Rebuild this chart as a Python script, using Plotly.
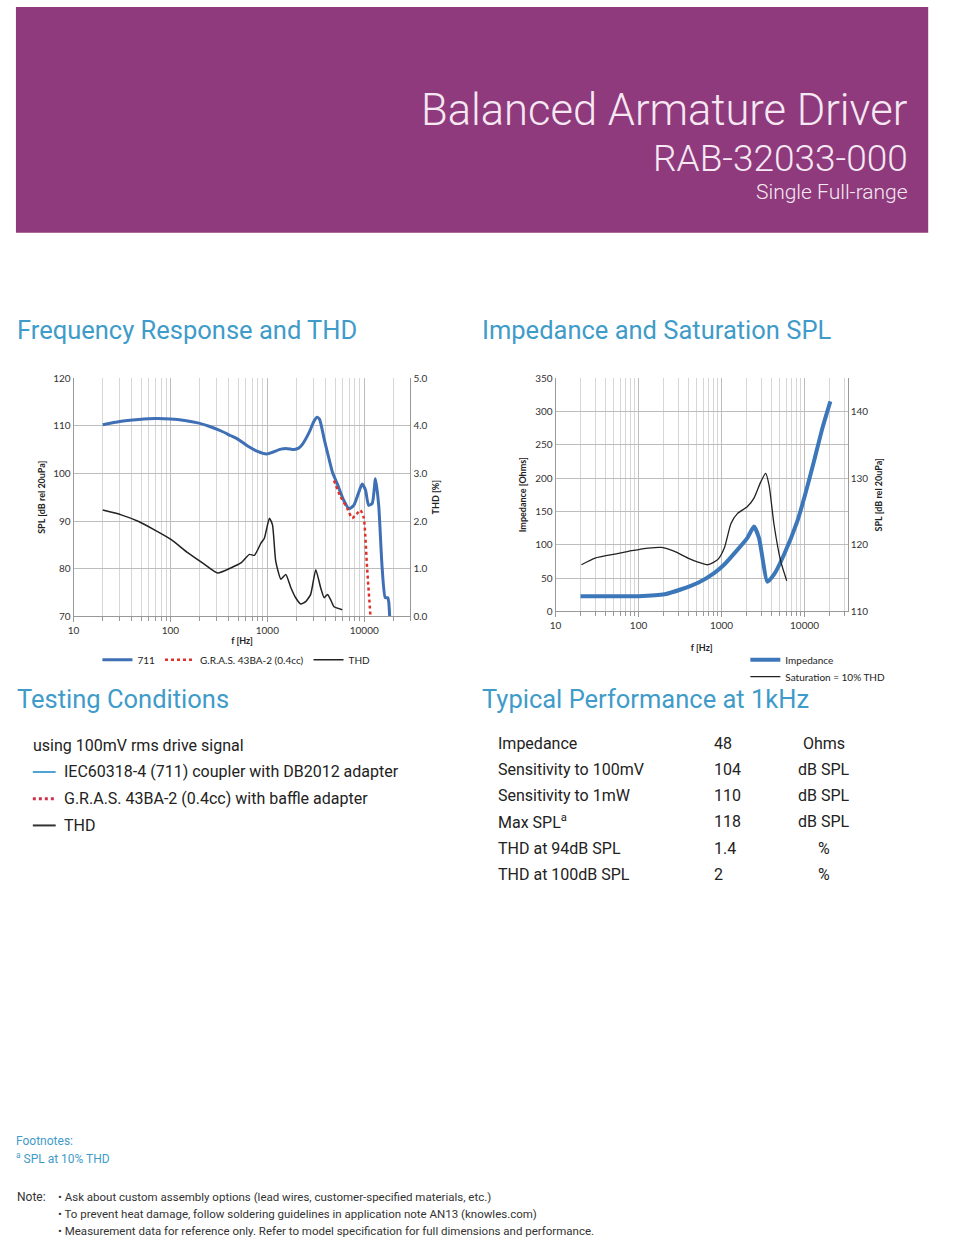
import plotly.graph_objects as go

W, H = 960, 1256

# ---------------- Data ----------------
# Frequency response (711 coupler), SPL dB
fr711_f = [20, 30, 47, 70, 100, 140, 192, 250, 334, 420, 495, 620, 794, 900, 1000, 1150, 1380, 1600, 1890, 2100,
           2300, 2700, 3000, 3250, 3450, 3860, 4300, 4690, 5270, 6100, 6950, 7790, 8700, 9520, 10300, 11100, 12080,
           13060, 14100, 15300, 16500, 17500, 17900, 18300]
fr711_spl = [110.2, 110.9, 111.3, 111.5, 111.4, 111.1, 110.6, 109.9, 108.9, 107.9, 107.2, 105.8, 104.6, 104.2, 104.1,
             104.5, 105.1, 105.2, 105.0, 105.3, 106.1, 108.6, 110.8, 111.8, 111.4, 107.2, 103.3, 100.3, 97.8, 94.5,
             92.6, 93.3, 95.8, 97.8, 96.5, 93.3, 93.7, 98.9, 93.3, 80.2, 73.9, 73.9, 73.0, 70.0]

# Frequency response (G.R.A.S. 43BA-2), SPL dB
gras_f = [4880, 5600, 6700, 7500, 8200, 9140, 9900, 10700, 11600]
gras_spl = [98.5, 95.4, 92.6, 90.6, 91.3, 92.3, 90.6, 80.2, 70.0]

# THD %
thd_f = [20, 31, 47, 69, 102, 152, 225, 307, 424, 534, 653, 735, 861, 932, 1050, 1130, 1220, 1380, 1550, 1750, 1960,
         2210, 2490, 2800, 3160, 3550, 3860, 4180, 4520, 4880, 5930]
thd_pct = [2.23, 2.13, 1.99, 1.81, 1.61, 1.33, 1.09, 0.91, 1.02, 1.12, 1.30, 1.28, 1.54, 1.64, 2.06, 1.92, 1.16, 0.78,
           0.88, 0.60, 0.39, 0.26, 0.31, 0.46, 0.98, 0.60, 0.39, 0.46, 0.34, 0.20, 0.14]

# Impedance, Ohms
imp_f = [20, 50, 100, 207, 328, 522, 822, 1080, 1560, 2040, 2460, 2830, 3570, 4290, 5650, 8150, 10000, 12900, 16250, 20460]
imp_ohm = [22.8, 22.8, 22.8, 25.7, 33.2, 43.0, 57.9, 70.3, 92.6, 110.0, 127.2, 110.0, 44.6, 55.4, 85.0, 134.6, 172.0,
           223.8, 273.0, 315.0]

# Saturation SPL (10% THD), dB
sat_f = [20.5, 30, 52, 83, 131, 189, 272, 394, 520, 684, 905, 1080, 1300, 1560, 2040, 2460, 2960, 3400, 3740, 4290,
         5170, 6100]
sat_spl = [117.0, 118.0, 118.6, 119.1, 119.5, 119.6, 119.0, 118.0, 117.4, 117.0, 117.8, 119.5, 123.2, 124.7, 125.7,
           127.0, 129.4, 130.7, 128.9, 123.0, 117.5, 114.6]

freq_ticks = [10, 100, 1000, 10000]
freq_ticktext = ["10", "100", "1000", "10000"]
freq_minor = [20, 30, 40, 50, 60, 70, 80, 90, 200, 300, 400, 500, 600, 700, 800, 900,
              2000, 3000, 4000, 5000, 6000, 7000, 8000, 9000, 20000, 30000]

# Typical performance table
perf_labels = ["Impedance", "Sensitivity to 100mV", "Sensitivity to 1mW", "Max SPL<sup>a</sup>",
               "THD at 94dB SPL", "THD at 100dB SPL"]
perf_values = ["48", "104", "110", "118", "1.4", "2"]
perf_units = ["Ohms", "dB SPL", "dB SPL", "dB SPL", "%", "%"]

testing_lines = ["IEC60318-4 (711) coupler with DB2012 adapter", "G.R.A.S. 43BA-2 (0.4cc) with baffle adapter", "THD"]
notes = ["• Ask about custom assembly options (lead wires, customer-specified materials, etc.)",
         "• To prevent heat damage, follow soldering guidelines in application note AN13 (knowles.com)",
         "• Measurement data for reference only. Refer to model specification for full dimensions and performance."]

# ---------------- Styles ----------------
PURPLE = "#8E3A7C"
HEAD_TXT = "#F6E8F3"
SECTION = "#3F9BC9"
BLUE = "#3F6FB4"
IMP_BLUE = "#3C78B9"
RED = "#E0302A"
BLACK = "#222222"
GRID = "#BDBDBD"
GRID_MINOR = "#D6D6D6"
CHART_FONT = "Lato"
BODY_FONT = "Roboto"


def px(x):
    return x / W


def py(y):
    return 1 - y / H


fig = go.Figure()

fig.add_trace(go.Scatter(x=fr711_f, y=fr711_spl, mode="lines", name="711", xaxis="x", yaxis="y",
                         line=dict(color=BLUE, width=3, shape="spline", smoothing=0.6), legend="legend"))
fig.add_trace(go.Scatter(x=gras_f, y=gras_spl, mode="lines", name="G.R.A.S. 43BA-2 (0.4cc)", xaxis="x", yaxis="y",
                         line=dict(color=RED, width=2.5, dash="dot", shape="spline", smoothing=0.5), legend="legend"))
fig.add_trace(go.Scatter(x=thd_f, y=thd_pct, mode="lines", name="THD", xaxis="x", yaxis="y2",
                         line=dict(color=BLACK, width=1.5, shape="spline", smoothing=0.5), legend="legend"))

fig.add_trace(go.Scatter(x=imp_f, y=imp_ohm, mode="lines", name="Impedance", xaxis="x2", yaxis="y3",
                         line=dict(color=IMP_BLUE, width=4, shape="spline", smoothing=0.5), legend="legend2"))
fig.add_trace(go.Scatter(x=sat_f, y=sat_spl, mode="lines", name="Saturation = 10% THD", xaxis="x2", yaxis="y4",
                         line=dict(color=BLACK, width=1.3, shape="spline", smoothing=0.6), legend="legend3"))

tickfont = dict(family=CHART_FONT, size=10, color="#333333")
titlefont = dict(family=CHART_FONT, size=9, color="#222222", weight="bold")
legfont = dict(family=CHART_FONT, size=10, color="#222222")

xcommon = dict(type="log", tickvals=freq_ticks, ticktext=freq_ticktext, showgrid=True, gridcolor=GRID,
               gridwidth=1, tickfont=tickfont, showline=True, linecolor="#999999", zeroline=False,
               minor=dict(tickmode="array", tickvals=freq_minor, showgrid=True, gridcolor=GRID_MINOR,
                          ticks="outside", ticklen=4, tickcolor="#999999"),
               ticks="outside", ticklen=5, tickcolor="#999999", title_font=titlefont)

fig.update_layout(
    width=W, height=H, margin=dict(l=0, r=0, t=0, b=0),
    paper_bgcolor="white", plot_bgcolor="white",
    xaxis=dict(xcommon, domain=[px(68), px(407)], range=[1, 4.477], anchor="y",
               title=dict(text="f [Hz]", standoff=2)),
    yaxis=dict(domain=[py(615.7), py(375)], range=[70, 120], dtick=10, tickfont=tickfont, showgrid=True,
               gridcolor=GRID, zeroline=False, anchor="x", showline=True, linecolor="#999999", mirror=False,
               title=dict(text="SPL [dB rel 20uPa]", font=titlefont, standoff=6)),
    yaxis2=dict(overlaying="y", side="right", range=[0, 5], dtick=1, tickformat=".1f", tickfont=tickfont,
                showgrid=False, zeroline=False, anchor="x", showline=True, linecolor="#999999",
                title=dict(text="THD [%]", font=titlefont, standoff=6)),
    xaxis2=dict(xcommon, domain=[px(553), px(847)], range=[1, 4.52], anchor="y3",
                title=dict(text="f [Hz]", standoff=14)),
    yaxis3=dict(domain=[py(610.7), py(375)], range=[0, 350], dtick=50, tickfont=tickfont, showgrid=True,
                gridcolor=GRID, zeroline=False, anchor="x2", showline=True, linecolor="#999999",
                title=dict(text="Impedance [Ohms]", font=titlefont, standoff=6)),
    yaxis4=dict(overlaying="y3", side="right", range=[110, 145], tickvals=[110, 120, 130, 140], tickfont=tickfont,
                showgrid=False, zeroline=False, anchor="x2", showline=True, linecolor="#999999",
                title=dict(text="SPL [dB rel 20uPa]", font=titlefont, standoff=8)),
    legend=dict(orientation="h", x=px(92), y=py(645), xanchor="left", yanchor="top",
                font=legfont, itemwidth=30, tracegroupgap=0, bgcolor="rgba(0,0,0,0)", itemclick=False),
    legend2=dict(orientation="v", x=px(744), y=py(645), xanchor="left", yanchor="top",
                 font=legfont, itemwidth=30, tracegroupgap=0, bgcolor="rgba(0,0,0,0)", itemclick=False),
    legend3=dict(orientation="v", x=px(744), y=py(662), xanchor="left", yanchor="top",
                 font=legfont, itemwidth=30, tracegroupgap=0, bgcolor="rgba(0,0,0,0)", itemclick=False),
    showlegend=True,
)

shapes = []
annotations = []

# Header band
shapes.append(dict(type="rect", xref="paper", yref="paper", x0=px(10), x1=px(928), y0=py(228), y1=1,
                   fillcolor=PURPLE, line=dict(width=0), layer="below"))


def text(x, y, s, size, color="#222222", family=BODY_FONT, xanchor="left", weight="normal"):
    annotations.append(dict(x=px(x), y=py(y), xref="paper", yref="paper", text=s, showarrow=False,
                            xanchor=xanchor, yanchor="middle",
                            font=dict(family=family, size=size, color=color, weight=weight)))


text(910, 105, "Balanced Armature Driver", 43.5, HEAD_TXT, xanchor="right", weight=300)
text(910, 153, "RAB-32033-000", 37, HEAD_TXT, xanchor="right", weight=300)
text(910, 187, "Single Full-range", 21, HEAD_TXT, xanchor="right", weight=300)

text(9, 326, "Frequency Response and THD", 25.5, SECTION)
text(477, 326, "Impedance and Saturation SPL", 25.5, SECTION)
text(9, 699, "Testing Conditions", 25.5, SECTION)
text(477, 699, "Typical Performance at 1kHz", 25.5, SECTION)

# Testing conditions
text(25, 746, "using 100mV rms drive signal", 16)
test_y = [773, 800, 827]
test_styles = [dict(color="#4FA3D1", width=2), dict(color="#D0304A", width=3, dash="dot"),
               dict(color="#333333", width=2)]
for yy, s, st in zip(test_y, testing_lines, test_styles):
    shapes.append(dict(type="line", xref="paper", yref="paper", x0=px(27), x1=px(50), y0=py(yy), y1=py(yy), line=st))
    text(56, yy, s, 16)

# Performance table
row_y = [744, 770, 797, 823, 850, 877]
for yy, lab, val, unit in zip(row_y, perf_labels, perf_values, perf_units):
    text(493, yy, lab, 16)
    text(710, yy, val, 16)
    text(823, yy, unit, 16, xanchor="center")

# Footnotes
text(8, 1146, "Footnotes:", 12, SECTION)
text(8, 1163, "<sup>a</sup> SPL at 10% THD", 12, SECTION)
text(9, 1202, "Note:", 12, "#333333")
for i, n in enumerate(notes):
    text(50, 1202 + i * 17.5, n, 11.5, "#333333")

fig.update_layout(shapes=shapes, annotations=annotations)

fig.write_html("out.html", config={"displayModeBar": False},
               post_script="document.body.style.margin='0px';document.body.style.padding='0px';"
                           "document.documentElement.style.overflow='hidden';")
